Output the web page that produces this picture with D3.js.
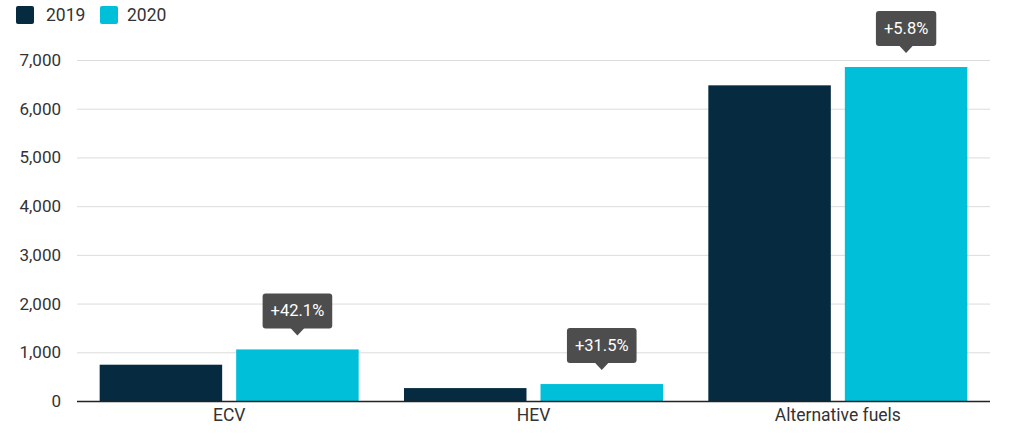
<!DOCTYPE html>
<html><head><meta charset="utf-8">
<script src="https://cdn.jsdelivr.net/npm/d3@7"></script>
<style>
html,body{margin:0;padding:0;background:#fff;}
svg{display:block;font-family:Roboto,"Noto Sans",sans-serif;}
</style></head>
<body><svg id="chart" width="1024" height="438"></svg>
<script>
const categories = ["ECV", "HEV", "Alternative fuels"];
const seriesNames = ["2019", "2020"];
const values2019 = [745, 265, 6480];
const values2020 = [1059, 348, 6856];
const changeLabels = ["+42.1%", "+31.5%", "+5.8%"];
const yTicks = [0, 1000, 2000, 3000, 4000, 5000, 6000, 7000];
const colors = ["#062b40", "#00c0d9"];

const svg = d3.select("#chart");
const margin = {left: 77, right: 990, top: 60, bottom: 401};

const x0 = d3.scaleBand().domain(categories).range([margin.left, margin.right]).paddingInner(0).paddingOuter(0);
const x1 = d3.scaleBand().domain(seriesNames).range([0, x0.bandwidth()]).paddingInner(0.1026).paddingOuter(0.166);
const y = d3.scaleLinear().domain([0, 7000]).range([margin.bottom, margin.top]);

// gridlines
svg.append("g").selectAll("line").data(yTicks.filter(d => d > 0)).join("line")
  .attr("x1", margin.left).attr("x2", margin.right)
  .attr("y1", d => y(d) + 0.5).attr("y2", d => y(d) + 0.5)
  .attr("stroke", "#dcdcdc").attr("stroke-width", 1);

// y axis labels
const yAxis = d3.axisLeft(y).tickValues(yTicks).tickFormat(d3.format(",")).tickSize(0).tickPadding(0);
const ya = svg.append("g").attr("transform", `translate(61,0)`).call(yAxis);
ya.select(".domain").remove();
ya.selectAll("text").attr("font-size", 17).attr("fill", "#333").attr("font-family", "Roboto");

// bars
const data = categories.map((c, i) => ({cat: c, vals: [values2019[i], values2020[i]], label: changeLabels[i]}));
const groups = svg.append("g").selectAll("g").data(data).join("g")
  .attr("transform", d => `translate(${x0(d.cat)},0)`);
groups.selectAll("rect").data(d => d.vals.map((v, j) => ({key: seriesNames[j], v, j}))).join("rect")
  .attr("x", d => x1(d.key)).attr("width", x1.bandwidth())
  .attr("y", d => y(d.v)).attr("height", d => y(0) - y(d.v))
  .attr("fill", d => colors[d.j]);

// baseline
svg.append("line").attr("x1", margin.left).attr("x2", margin.right)
  .attr("y1", y(0) + 0.5).attr("y2", y(0) + 0.5).attr("stroke", "#222").attr("stroke-width", 1.5);

// x axis labels
const xAxis = d3.axisBottom(x0).tickSize(0).tickPadding(0);
const xa = svg.append("g").attr("transform", `translate(0,${y(0) + 8})`).call(xAxis);
xa.select(".domain").remove();
xa.selectAll("text").attr("font-size", 17.5).attr("fill", "#333").attr("font-family", "Roboto");

// callouts
groups.each(function(d) {
  const g = d3.select(this);
  const cx = x1("2020") + x1.bandwidth() / 2;
  const tipY = y(d.vals[1]) - 14;
  const h = 35;
  const t = g.append("text").attr("x", cx).attr("y", tipY - 7 - h / 2)
    .attr("text-anchor", "middle").attr("dominant-baseline", "central")
    .attr("font-size", 16.5).attr("fill", "#fff").text(d.label);
  const w = t.node().getComputedTextLength() + 16;
  g.insert("rect", "text").attr("x", cx - w / 2).attr("y", tipY - 7 - h)
    .attr("width", w).attr("height", h).attr("rx", 3).attr("fill", "#4d4d4d");
  g.insert("path", "text").attr("d", `M${cx - 7},${tipY - 7.5} L${cx + 7},${tipY - 7.5} L${cx},${tipY} Z`)
    .attr("fill", "#4d4d4d");
});

// legend
const legend = svg.append("g");
const legendItems = [{name: "2019", x: 16, tx: 46}, {name: "2020", x: 100, tx: 127}];
legendItems.forEach((it, i) => {
  legend.append("rect").attr("x", it.x).attr("y", 6).attr("width", 18).attr("height", 18).attr("rx", 2).attr("fill", colors[i]);
  legend.append("text").attr("x", it.tx).attr("y", 15).attr("dominant-baseline", "central")
    .attr("font-size", 17.5).attr("fill", "#333").text(seriesNames[i]);
});
</script>
</body></html>
